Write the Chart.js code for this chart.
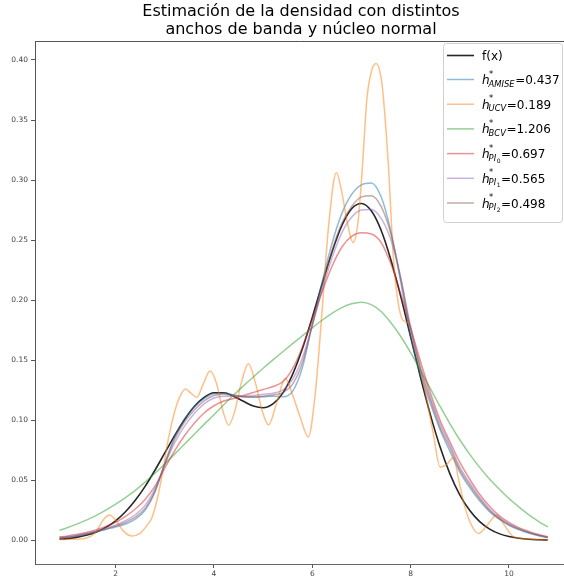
<!DOCTYPE html>
<html>
<head>
<meta charset="utf-8">
<script src="https://cdn.jsdelivr.net/npm/chart.js@4.4.0/dist/chart.umd.min.js"></script>
<style>
  html, body { margin: 0; padding: 0; background: #fff; }
  #wrap { width: 564px; height: 578px; }
</style>
</head>
<body>
<div id="wrap"><canvas id="kde" width="564" height="578"></canvas></div>
<script>
// title and tick values
const titleLines = ['Estimación de la densidad con distintos', 'anchos de banda y núcleo normal']
const xTicks = [2, 4, 6, 8, 10]
const yTicks = [0, 0.05, 0.10, 0.15, 0.20, 0.25, 0.30, 0.35, 0.40]

// shared grid for the smooth curves
const xs = [0.86, 1.0, 1.2, 1.4, 1.6, 1.8, 2.0, 2.2, 2.4, 2.6, 2.8, 3.0, 3.2, 3.4, 3.6, 3.8, 4.0, 4.2, 4.4, 4.6,
  4.8, 5.0, 5.2, 5.4, 5.6, 5.8, 6.0, 6.2, 6.4, 6.6, 6.8, 7.0, 7.2, 7.4, 7.6, 7.8, 8.0, 8.2, 8.4, 8.6,
  8.8, 9.0, 9.2, 9.4, 9.6, 9.8, 10.0, 10.2, 10.4, 10.6, 10.79]

// f(x)
const fx = [.0009, .0013, .0024, .0041, .0067, .0107, .0162, .0237, .0333, .0449, .0583, .0727, .0871, .1004, .1114, .1190, .1228, .1228, .1200, .1157,
  .1118, .1104, .1136, .1225, .1381, .1596, .1856, .2135, .2399, .2619, .2761, .2805, .2744, .2582, .2334, .2029, .1694, .1359, .1048, .0776,
  .0553, .0378, .0249, .0157, .0095, .0055, .0031, .0017, .0008, .0004, .0002]

// h AMISE = 0.437
const kdeAmise = [.0017, .0022, .0033, .0050, .0070, .0090, .0110, .0135, .0175, .0250, .0400, .0640, .0860, .1010, .1110, .1180, .1220, .1225, .1210, .1195,
  .1190, .1195, .1200, .1195, .1240, .1440, .1800, .2150, .2470, .2720, .2880, .2960, .2975, .2860, .2570, .2150, .1700, .1380, .1140, .0920,
  .0740, .0570, .0440, .0330, .0240, .0175, .0125, .0088, .0060, .0038, .0022]

// h UCV = 0.189 (wiggly, own x points)
const ucvX = [0.86, 1.1, 1.38, 1.6, 1.75, 1.87, 2.0, 2.15, 2.33, 2.5, 2.65, 2.74, 2.85, 2.94, 3.08, 3.2, 3.3, 3.42, 3.53, 3.65,
  3.78, 3.92, 4.05, 4.18, 4.30, 4.42, 4.55, 4.70, 4.85, 4.98, 5.11, 5.28, 5.45, 5.6, 5.75, 5.92, 6.06, 6.19, 6.33, 6.49,
  6.60, 6.70, 6.83, 6.93, 7.01, 7.11, 7.20, 7.30, 7.40, 7.45, 7.55, 7.65, 7.75, 7.85, 7.96, 8.09, 8.19, 8.33, 8.46, 8.60,
  8.73, 8.87, 8.97, 9.07, 9.2, 9.38, 9.55, 9.75, 9.9, 10.09, 10.4, 10.79]
const ucvY = [.0006, .0008, .0015, .0070, .0170, .0210, .0170, .0080, .0036, .0060, .0130, .0190, .0350, .0530, .0860, .1070, .1190, .1260, .1225, .1190,
  .1300, .1410, .1310, .1080, .0960, .1070, .1300, .1470, .1300, .1080, .0960, .1150, .1350, .1210, .1030, .0860, .1220, .1860, .2610, .3060,
  .2900, .2670, .2480, .2650, .3050, .3670, .3900, .3970, .3850, .3670, .3110, .2350, .1970, .1830, .1810, .1610, .1440, .1170, .0890, .0610,
  .0630, .0690, .0520, .0330, .0160, .0056, .0120, .0210, .0130, .0030, .0010, .0006]

// h BCV = 1.206
const kdeBcv = [.0083, .0102, .0132, .0167, .0205, .0250, .0300, .0355, .0415, .0485, .0558, .0635, .0717, .0800, .0883, .0965, .1045, .1129, .1209, .1286,
  .1360, .1432, .1502, .1570, .1637, .1703, .1769, .1832, .1889, .1937, .1970, .1983, .1962, .1905, .1812, .1697, .1562, .1415, .1264, .1114,
  .0970, .0837, .0717, .0609, .0513, .0426, .0347, .0278, .0214, .0158, .0110]

// h PI0 = 0.697
const kdePi0 = [.0028, .0034, .0047, .0064, .0086, .0114, .0150, .0198, .0260, .0340, .0450, .0600, .0745, .0870, .0975, .1060, .1120, .1160, .1180, .1205,
  .1230, .1255, .1280, .1320, .1430, .1610, .1840, .2070, .2280, .2440, .2530, .2560, .2550, .2480, .2300, .2050, .1770, .1490, .1230, .1000,
  .0820, .0650, .0510, .0385, .0285, .0205, .0148, .0105, .0074, .0048, .0029]

// h PI1 = 0.565
const kdePi1 = [.0023, .0028, .0040, .0056, .0076, .0099, .0126, .0162, .0212, .0290, .0430, .0630, .0810, .0950, .1055, .1135, .1185, .1200, .1200, .1200,
  .1205, .1215, .1225, .1250, .1340, .1520, .1790, .2080, .2350, .2560, .2690, .2750, .2755, .2680, .2500, .2180, .1780, .1450, .1195, .0970,
  .0795, .0610, .0480, .0360, .0262, .0188, .0136, .0097, .0067, .0044, .0026]

// h PI2 = 0.498
const kdePi2 = [.0020, .0025, .0036, .0052, .0072, .0094, .0118, .0148, .0192, .0265, .0410, .0635, .0840, .0985, .1085, .1160, .1205, .1215, .1205, .1195,
  .1195, .1200, .1210, .1230, .1300, .1480, .1790, .2110, .2410, .2640, .2780, .2860, .2870, .2780, .2550, .2180, .1750, .1420, .1170, .0940,
  .0770, .0590, .0460, .0345, .0250, .0180, .0130, .0093, .0064, .0041, .0024]

// legend pieces: h^*_{name}=value
const bandNames = ['AMISE', 'UCV', 'BCV', 'PI', 'PI', 'PI']
const bandIndex = ['', '', '', '0', '1', '2']
const bandValues = ['0.437', '0.189', '1.206', '0.697', '0.565', '0.498']

const colors = ['rgba(0,0,0,0.85)', 'rgba(31,119,180,0.5)', 'rgba(255,127,14,0.5)', 'rgba(44,160,44,0.5)',
  'rgba(214,39,40,0.5)', 'rgba(148,103,189,0.5)', 'rgba(140,86,75,0.5)']

function pts(xa, ya) {
  return xa.map((x, i) => ({x: x, y: ya[i]}))
}

const series = [pts(xs, fx), pts(xs, kdeAmise), pts(ucvX, ucvY), pts(xs, kdeBcv), pts(xs, kdePi0), pts(xs, kdePi1), pts(xs, kdePi2)]

const datasets = series.map((d, i) => ({
  data: d,
  borderColor: colors[i],
  borderWidth: i === 0 ? 1.6 : 1.5,
  pointRadius: 0,
  showLine: true,
  fill: false,
  cubicInterpolationMode: 'monotone',
  order: -i // later series on top, like matplotlib
}))

const FONT = '"DejaVu Sans", sans-serif'

// title, top spine and the math legend
const extras = {
  id: 'extras',
  afterDraw(chart) {
    const ctx = chart.ctx
    const a = chart.chartArea
    ctx.save()
    ctx.strokeStyle = '#555'
    ctx.lineWidth = 1
    ctx.beginPath()
    ctx.moveTo(a.left, a.top + 0.5)
    ctx.lineTo(a.right, a.top + 0.5)
    ctx.stroke()

    ctx.fillStyle = '#000'
    ctx.font = '16px ' + FONT
    ctx.textAlign = 'center'
    ctx.textBaseline = 'middle'
    ctx.fillText(titleLines[0], 301, 12)
    ctx.fillText(titleLines[1], 301, 30)

    // legend box
    ctx.beginPath()
    ctx.roundRect(443.5, 43.5, 119, 179, 3)
    ctx.fillStyle = 'rgba(255,255,255,0.85)'
    ctx.fill()
    ctx.strokeStyle = '#d0d0d0'
    ctx.stroke()

    chart.data.datasets.forEach((ds, i) => {
      const y = i === 0 ? 55.5 : 79.5 + (i - 1) * 24.7
      ctx.strokeStyle = ds.borderColor
      ctx.lineWidth = ds.borderWidth
      ctx.beginPath()
      ctx.moveTo(447, y)
      ctx.lineTo(474, y)
      ctx.stroke()

      ctx.fillStyle = '#000'
      ctx.textAlign = 'left'
      ctx.textBaseline = 'alphabetic'
      let x = 482
      if (i === 0) {
        ctx.font = '12px ' + FONT
        ctx.fillText('f(x)', x, y + 4.5)
        return
      }
      ctx.font = 'italic 12px ' + FONT
      ctx.fillText('h', x, y + 4.5)
      x += ctx.measureText('h').width
      ctx.font = '8.4px ' + FONT
      ctx.fillText('*', x - 0.5, y - 3)
      const supEnd = x - 0.5 + ctx.measureText('*').width
      ctx.font = 'italic 8.4px ' + FONT
      const name = bandNames[i - 1]
      ctx.fillText(name, x - 1, y + 7)
      let subEnd = x - 1 + ctx.measureText(name).width
      if (bandIndex[i - 1]) {
        ctx.font = '6px ' + FONT
        ctx.fillText(bandIndex[i - 1], subEnd + 0.5, y + 9)
        subEnd += 0.5 + ctx.measureText(bandIndex[i - 1]).width
      }
      ctx.font = '12px ' + FONT
      ctx.fillText('=' + bandValues[i - 1], Math.max(subEnd, supEnd) + 0.5, y + 4.5)
    })
    ctx.restore()
  }
}

new Chart(document.getElementById('kde'), {
  type: 'scatter',
  data: {datasets: datasets},
  options: {
    responsive: false,
    animation: false,
    devicePixelRatio: 1,
    events: [],
    layout: {padding: {top: 41, left: 0, right: 0, bottom: 0}},
    plugins: {
      legend: {display: false},
      tooltip: {enabled: false},
      title: {display: false}
    },
    scales: {
      x: {
        type: 'linear',
        min: 0.36,
        max: 11.12,
        afterBuildTicks: s => { s.ticks = xTicks.map(v => ({value: v})) },
        afterFit: s => { s.height = 14 },
        ticks: {font: {size: 7.5, family: FONT}, color: '#444', padding: 2, maxRotation: 0, autoSkip: false},
        grid: {drawOnChartArea: false, tickLength: 4, color: '#555'},
        border: {color: '#666', width: 1}
      },
      y: {
        min: -0.0198,
        max: 0.4158,
        afterBuildTicks: s => { s.ticks = yTicks.map(v => ({value: v})) },
        afterFit: s => { s.width = 35 },
        ticks: {font: {size: 7.5, family: FONT}, color: '#444', padding: 3, autoSkip: false,
          callback: v => v.toFixed(2)},
        grid: {drawOnChartArea: false, tickLength: 4, color: '#555'},
        border: {color: '#555', width: 1}
      }
    }
  },
  plugins: [extras]
})
</script>
</body>
</html>
